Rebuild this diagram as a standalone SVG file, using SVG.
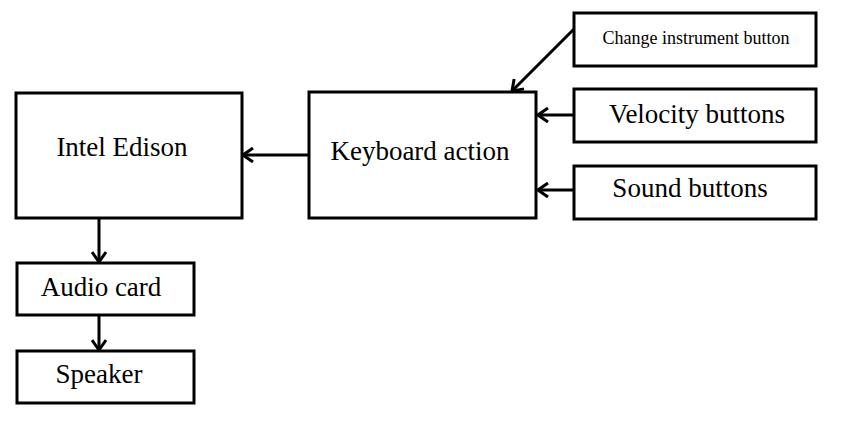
<svg xmlns="http://www.w3.org/2000/svg" width="844" height="430" viewBox="0 0 844 430">
<style>
.box{fill:#fff;stroke:#000;stroke-width:3}
.t{font-family:"Liberation Serif","Times New Roman",serif;fill:#000;font-size:27px;text-anchor:middle}
.c{stroke:#000;stroke-width:3;fill:none}
</style>
<defs>
<marker id="ah" viewBox="0 0 12 16" refX="11" refY="8" markerWidth="12" markerHeight="16" markerUnits="userSpaceOnUse" orient="auto">
<path d="M1,1 L11,8 L1,15" fill="none" stroke="#000" stroke-width="3"/>
</marker>
</defs>
<rect width="844" height="430" fill="#fff"/>
<g id="connectors">
<line class="c" x1="309" y1="155" x2="243" y2="155" marker-end="url(#ah)"/>
<line class="c" x1="99" y1="218" x2="99" y2="262" marker-end="url(#ah)"/>
<line class="c" x1="99" y1="315" x2="99" y2="350" marker-end="url(#ah)"/>
<line class="c" x1="574" y1="115" x2="538" y2="115" marker-end="url(#ah)"/>
<line class="c" x1="574" y1="190" x2="538" y2="190" marker-end="url(#ah)"/>
<line class="c" x1="575" y1="28" x2="512" y2="91" marker-end="url(#ah)"/>
</g>
<g id="intel-edison"><rect class="box" x="16" y="93" width="226" height="125"/><text class="t" x="122" y="156">Intel Edison</text></g>
<g id="audio-card"><rect class="box" x="17" y="263" width="177" height="52"/><text class="t" x="101" y="296">Audio card</text></g>
<g id="speaker"><rect class="box" x="17" y="351" width="177" height="52"/><text class="t" x="99" y="383">Speaker</text></g>
<g id="keyboard-action"><rect class="box" x="309" y="92" width="227" height="126"/><text class="t" x="420" y="160">Keyboard action</text></g>
<g id="change-instrument"><rect class="box" x="574" y="13" width="242" height="53"/><text class="t" x="696" y="44" style="font-size:18px">Change instrument button</text></g>
<g id="velocity-buttons"><rect class="box" x="574" y="89" width="242" height="53"/><text class="t" x="697" y="123">Velocity buttons</text></g>
<g id="sound-buttons"><rect class="box" x="574" y="166" width="242" height="53"/><text class="t" x="690" y="197">Sound buttons</text></g>
</svg>
